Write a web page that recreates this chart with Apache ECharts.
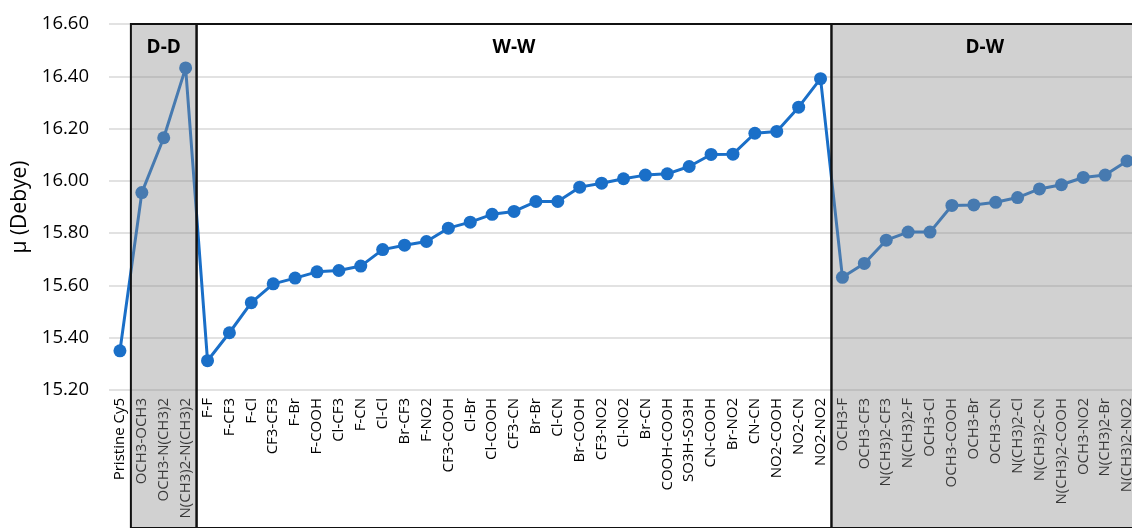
<!DOCTYPE html>
<html>
<head>
<meta charset="utf-8">
<script src="https://cdn.jsdelivr.net/npm/echarts@6/dist/echarts.min.js"></script>
<style>
  html, body { margin: 0; padding: 0; background: #ffffff; overflow: hidden; }
  #chart { width: 1160px; height: 528px; }
</style>
</head>
<body>
<div id="chart"></div>
<script>
// Dipole moment of Cy5 derivatives, grouped by substituent pair type
const pristineLabel = 'Pristine Cy5';
const pristineValue = 15.35;

const ddCats = ['OCH3-OCH3', 'OCH3-N(CH3)2', 'N(CH3)2-N(CH3)2'];
const ddVals = [15.955, 16.165, 16.432];

const wwCats = ['F-F', 'F-CF3', 'F-Cl', 'CF3-CF3', 'F-Br', 'F-COOH', 'Cl-CF3', 'F-CN', 'Cl-Cl',
  'Br-CF3', 'F-NO2', 'CF3-COOH', 'Cl-Br', 'Cl-COOH', 'CF3-CN', 'Br-Br', 'Cl-CN', 'Br-COOH',
  'CF3-NO2', 'Cl-NO2', 'Br-CN', 'COOH-COOH', 'SO3H-SO3H', 'CN-COOH', 'Br-NO2', 'CN-CN',
  'NO2-COOH', 'NO2-CN', 'NO2-NO2'];
const wwVals = [15.312, 15.419, 15.534, 15.606, 15.628, 15.652, 15.657, 15.674, 15.737,
  15.754, 15.768, 15.819, 15.842, 15.872, 15.883, 15.921, 15.921, 15.976,
  15.991, 16.008, 16.022, 16.027, 16.055, 16.101, 16.102, 16.182,
  16.189, 16.282, 16.391];

const dwCats = ['OCH3-F', 'OCH3-CF3', 'N(CH3)2-CF3', 'N(CH3)2-F', 'OCH3-Cl', 'OCH3-COOH',
  'OCH3-Br', 'OCH3-CN', 'N(CH3)2-Cl', 'N(CH3)2-CN', 'N(CH3)2-COOH', 'OCH3-NO2',
  'N(CH3)2-Br', 'N(CH3)2-NO2'];
const dwVals = [15.631, 15.684, 15.773, 15.804, 15.804, 15.906,
  15.908, 15.918, 15.936, 15.969, 15.985, 16.013,
  16.022, 16.076];

const groupNames = ['D-D', 'W-W', 'D-W'];
const groupShaded = [true, false, true];

const yMin = 15.2, yMax = 16.6, yStep = 0.2;

const categories = [pristineLabel].concat(ddCats, wwCats, dwCats);
const values = [pristineValue].concat(ddVals, wwVals, dwVals);

// category index ranges for each group box
const groupLists = [ddCats, wwCats, dwCats];
const groupData = [];
let cursor = 1;
groupLists.forEach(function (list, i) {
  groupData.push([cursor, cursor + list.length - 1, i]);
  cursor += list.length;
});

const FONT = 'Open Sans';
const chart = echarts.init(document.getElementById('chart'), null, { renderer: 'canvas' });

chart.setOption({
  animation: false,
  backgroundColor: '#ffffff',
  textStyle: { fontFamily: FONT },
  grid: [
    { left: 109, top: 24, width: 1029, height: 366 },
    { left: 109, top: 24, width: 1029, bottom: -60 }
  ],
  xAxis: [
    {
      type: 'category',
      gridIndex: 0,
      data: categories,
      boundaryGap: true,
      axisLine: { show: false },
      axisTick: { show: false },
      axisLabel: {
        interval: 0,
        rotate: 90,
        margin: 8,
        fontSize: 15,
        color: '#000000',
        fontFamily: FONT
      }
    },
    { type: 'value', gridIndex: 1, min: -0.5, max: categories.length - 0.5, show: false }
  ],
  yAxis: [
    {
      type: 'value',
      gridIndex: 0,
      min: yMin,
      max: yMax,
      interval: yStep,
      name: 'µ (Debye)',
      nameLocation: 'middle',
      nameGap: 76,
      nameTextStyle: { fontSize: 21, color: '#000000', fontFamily: FONT },
      axisLine: { show: false },
      axisTick: { show: false },
      axisLabel: {
        fontSize: 18.5,
        color: '#000000',
        margin: 20,
        fontFamily: FONT,
        formatter: function (v) { return v.toFixed(2); }
      },
      splitLine: { lineStyle: { color: '#d9d9d9', width: 1.5 } }
    },
    { type: 'value', gridIndex: 1, min: 0, max: 1, show: false }
  ],
  series: [
    {
      type: 'line',
      xAxisIndex: 0,
      yAxisIndex: 0,
      data: values,
      symbol: 'circle',
      symbolSize: 13,
      z: 2,
      lineStyle: { color: '#1a6fc8', width: 3 },
      itemStyle: { color: '#1a6fc8' }
    },
    {
      type: 'custom',
      xAxisIndex: 1,
      yAxisIndex: 1,
      z: 5,
      clip: false,
      data: groupData,
      renderItem: function (params, api) {
        const start = api.value(0), end = api.value(1), g = api.value(2);
        const p0 = api.coord([start - 0.5, 1]);
        const p1 = api.coord([end + 0.5, 0]);
        return {
          type: 'group',
          children: [
            {
              type: 'rect',
              shape: { x: p0[0], y: p0[1], width: p1[0] - p0[0], height: p1[1] - p0[1] },
              style: {
                fill: groupShaded[g] ? 'rgba(140,140,140,0.40)' : 'rgba(0,0,0,0)',
                stroke: '#111111',
                lineWidth: 2
              }
            },
            {
              type: 'text',
              style: {
                text: groupNames[g],
                x: (p0[0] + p1[0]) / 2,
                y: p0[1] + 14,
                textAlign: 'center',
                textVerticalAlign: 'top',
                font: 'bold 19px "' + FONT + '"',
                fill: '#000000'
              }
            }
          ]
        };
      }
    }
  ]
});
</script>
</body>
</html>
